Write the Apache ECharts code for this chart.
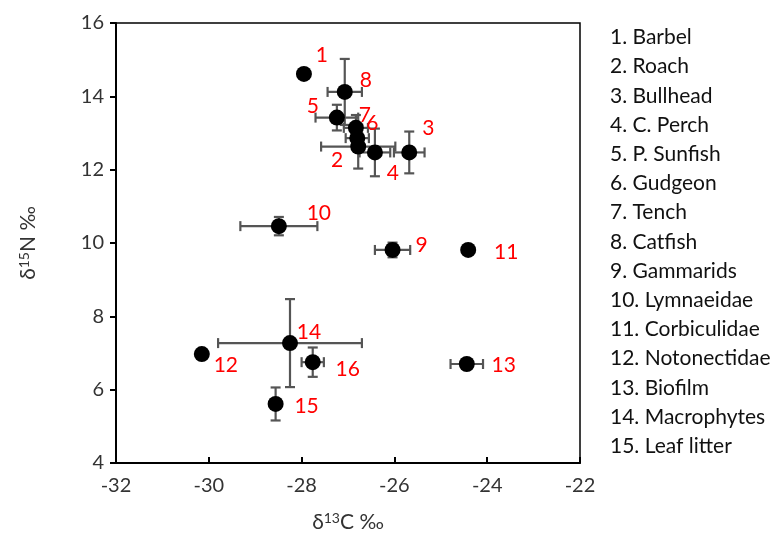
<!DOCTYPE html>
<html><head><meta charset="utf-8">
<script src="https://cdn.jsdelivr.net/npm/echarts@6/dist/echarts.min.js"></script>
<style>html,body{margin:0;padding:0;background:#fff}#c{width:779px;height:542px}</style>
</head><body><div id="c"></div>
<script>
const pointIds = ['1','2','3','4','5','6','7','8','9','10','11','12','13','14','15','16'];
const legendNames = ['Barbel','Roach','Bullhead','C. Perch','P. Sunfish','Gudgeon','Tench','Catfish','Gammarids','Lymnaeidae','Corbiculidae','Notonectidae','Biofilm','Macrophytes','Leaf litter'];
const d13C = [-27.95,-26.78,-25.68,-26.42,-27.24,-26.80,-26.83,-27.07,-26.04,-28.49,-24.41,-30.15,-24.44,-28.25,-28.56,-27.76];
const d15N = [14.61,12.63,12.47,12.47,13.42,12.86,13.14,14.12,9.81,10.46,9.81,6.97,6.70,7.27,5.61,6.75];
const errC = [0,0.80,0.33,0.33,0.46,0.25,0.26,0.37,0.38,0.83,0,0,0.35,1.55,0.10,0.24];
const errN = [0,0.60,0.57,0.65,0.35,0.30,0.35,0.90,0.20,0.25,0,0,0.10,1.20,0.45,0.40];
const xTicks = {min:-32, max:-22, interval:2};
const yTicks = {min:4, max:16, interval:2};

// label placement (pixel offsets from marker centre)
const labelOffsets = [[18,-19],[-21,14],[19,-24],[18,21],[-24,-11],[15,-15],[9,-13],[21,-12],[29,-5],[40,-13],[38,2],[24,11],[37,1],[19,-11],[31,2],[35,7]];

const FONT = 'Lato, "Open Sans", sans-serif';
const chart = echarts.init(document.getElementById('c'));

const points = d13C.map((x,i)=>({
  value:[x,d15N[i]],
  label:{show:true, formatter:pointIds[i], position:'inside', offset:labelOffsets[i],
    color:'#FF0000', fontSize:21, fontFamily:FONT, align:'center', verticalAlign:'middle'}
}));
const errData = d13C.map((x,i)=>[x,d15N[i],errC[i],errN[i]]);

const legendGraphics = legendNames.map((n,i)=>({
  type:'text', left:610, top:27 + i*29.2,
  style:{text:(i+1)+'. '+n, fill:'#111', fontSize:21, fontFamily:FONT}
}));

const titleRich = {a:{fontSize:21, fontFamily:FONT, color:'#333'}, s:{fontSize:14, fontFamily:FONT, color:'#333', padding:[0,0,9,0]}};

chart.setOption({
  animation:false,
  grid:{left:116, right:199, top:23, bottom:79, show:true, borderColor:'#000', borderWidth:1.5},
  xAxis:{type:'value', min:xTicks.min, max:xTicks.max, interval:xTicks.interval,
    axisLine:{show:true, onZero:false, lineStyle:{color:'#000', width:2}},
    axisTick:{show:true, inside:true, length:6, lineStyle:{color:'#000', width:2}},
    splitLine:{show:false},
    axisLabel:{color:'#333', fontSize:20, fontFamily:FONT, margin:13},
    name:'{a|δ}{s|13}{a|C ‰}', nameLocation:'middle', nameGap:48,
    nameTextStyle:{rich:titleRich}
  },
  yAxis:{type:'value', min:yTicks.min, max:yTicks.max, interval:yTicks.interval,
    axisLine:{show:true, onZero:false, lineStyle:{color:'#000', width:2}},
    axisTick:{show:true, inside:false, length:6, lineStyle:{color:'#000', width:2}},
    splitLine:{show:false},
    axisLabel:{color:'#333', fontSize:20, fontFamily:FONT, margin:12},
    name:'{a|δ}{s|15}{a|N ‰}', nameLocation:'middle', nameGap:76, nameRotate:90,
    nameTextStyle:{rich:titleRich}
  },
  graphic:legendGraphics,
  series:[
    {type:'custom', z:2, data:errData, encode:{x:0,y:1},
      renderItem:function(params, api){
        const x=api.value(0), y=api.value(1), ex=api.value(2), ey=api.value(3);
        const st={stroke:'#555555', lineWidth:2.2};
        const ch=[]; const cap=5;
        if(ex>0){
          const l=api.coord([x-ex,y]), r=api.coord([x+ex,y]);
          ch.push({type:'line', shape:{x1:l[0],y1:l[1],x2:r[0],y2:r[1]}, style:st});
          ch.push({type:'line', shape:{x1:l[0],y1:l[1]-cap,x2:l[0],y2:l[1]+cap}, style:st});
          ch.push({type:'line', shape:{x1:r[0],y1:r[1]-cap,x2:r[0],y2:r[1]+cap}, style:st});
        }
        if(ey>0){
          const t=api.coord([x,y+ey]), b=api.coord([x,y-ey]);
          ch.push({type:'line', shape:{x1:t[0],y1:t[1],x2:b[0],y2:b[1]}, style:st});
          ch.push({type:'line', shape:{x1:t[0]-cap,y1:t[1],x2:t[0]+cap,y2:t[1]}, style:st});
          ch.push({type:'line', shape:{x1:b[0]-cap,y1:b[1],x2:b[0]+cap,y2:b[1]}, style:st});
        }
        return {type:'group', children:ch};
      }
    },
    {type:'scatter', z:3, symbol:'circle', symbolSize:16, itemStyle:{color:'#000', opacity:1}, data:points}
  ]
});
</script></body></html>
